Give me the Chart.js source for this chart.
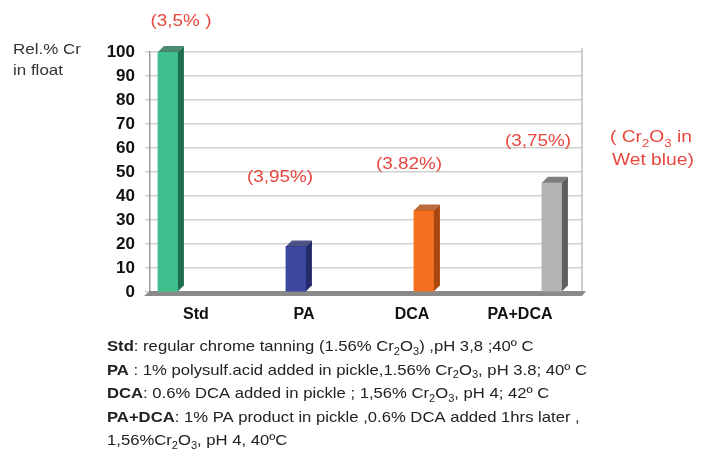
<!DOCTYPE html>
<html>
<head>
<meta charset="utf-8">
<script src="https://cdn.jsdelivr.net/npm/chart.js@4/dist/chart.umd.min.js"></script>
<style>
  html, body { margin: 0; padding: 0; background: #fff; }
  #wrap { width: 710px; height: 454px; position: relative; }
</style>
</head>
<body>
<div id="wrap"><canvas id="crChart"></canvas></div>
<script>
// data
const categories = ['Std', 'PA', 'DCA', 'PA+DCA'];
const relCr = [100, 19, 34, 45.5];
const cr2o3Labels = ['(3,5% )', '(3,95%)', '(3.82%)', '(3,75%)'];
const yTicks = [0, 10, 20, 30, 40, 50, 60, 70, 80, 90, 100];

const frontColors = ['#3fbf8e', '#3c47a0', '#f2701f', '#b4b4b4'];
const sideColors = ['#1d6e4e', '#252a6a', '#a9470f', '#5e5e5e'];
const red = '#e8463e';

// caption lines: [text, bold, subscript]
const caption = [
  [['Std', 1], [': regular chrome tanning (1.56% Cr'], ['2', 0, 1], ['O'], ['3', 0, 1], [') ,pH 3,8 ;40º C']],
  [['PA', 1], [' : 1% polysulf.acid added in pickle,1.56% Cr'], ['2', 0, 1], ['O'], ['3', 0, 1], [', pH 3.8; 40º C']],
  [['DCA', 1], [': 0.6% DCA added in pickle ; 1,56% Cr'], ['2', 0, 1], ['O'], ['3', 0, 1], [', pH 4; 42º C']],
  [['PA+DCA', 1], [': 1% PA product in pickle ,0.6% DCA added 1hrs later ,']],
  [['1,56%Cr'], ['2', 0, 1], ['O'], ['3', 0, 1], [', pH 4, 40ºC']]
];

const depth = 6;

// draws text stretched horizontally (the source image is a bit wide)
function wideText(c, t, x, y, sx, align) {
  const w = c.measureText(t).width * sx;
  let left = x;
  if (align === 'center') left = x - w / 2;
  c.save();
  c.translate(left, y);
  c.scale(sx, 1);
  c.textAlign = 'left';
  c.fillText(t, 0, 0);
  c.restore();
  return w;
}

const extras = {
  id: 'extras',
  beforeDatasetsDraw(chart) {
    const c = chart.ctx, a = chart.chartArea;
    c.save();
    c.strokeStyle = '#bdbdbd';
    c.lineWidth = 1.5;
    c.beginPath();
    c.moveTo(a.right, a.top - 4); c.lineTo(a.right, a.bottom);
    c.stroke();
    // floor
    c.fillStyle = '#8a8a8a';
    c.beginPath();
    c.moveTo(a.left - 6, a.bottom + 4);
    c.lineTo(a.right, a.bottom + 4);
    c.lineTo(a.right + 4, a.bottom - 1);
    c.lineTo(a.left, a.bottom - 1);
    c.closePath();
    c.fill();
    c.restore();
  },
  afterDatasetsDraw(chart) {
    const c = chart.ctx;
    const meta = chart.getDatasetMeta(0);
    c.save();
    meta.data.forEach((bar, i) => {
      const p = bar.getProps(['x', 'y', 'base', 'width'], true);
      const l = p.x - p.width / 2, r = p.x + p.width / 2;
      c.fillStyle = sideColors[i];
      c.beginPath();
      c.moveTo(r, p.y); c.lineTo(r + depth, p.y - depth);
      c.lineTo(r + depth, p.base - depth); c.lineTo(r, p.base);
      c.closePath(); c.fill();
      c.globalAlpha = 0.8;
      c.beginPath();
      c.moveTo(l, p.y); c.lineTo(l + depth, p.y - depth);
      c.lineTo(r + depth, p.y - depth); c.lineTo(r, p.y);
      c.closePath(); c.fill();
      c.globalAlpha = 1;
    });
    c.restore();
  },
  afterDraw(chart) {
    const c = chart.ctx;
    c.save();
    c.textBaseline = 'middle';
    // axis title
    c.fillStyle = '#333';
    c.font = '15px Arial';
    wideText(c, 'Rel.% Cr', 13, 50, 1.13);
    wideText(c, 'in float', 13, 71, 1.13);
    // red Cr2O3 labels
    c.fillStyle = red;
    c.font = '16px Arial';
    const pos = [[181, 22], [280, 178], [409, 165], [538, 142]];
    cr2o3Labels.forEach((t, i) => wideText(c, t, pos[i][0], pos[i][1], 1.18, 'center'));
    // note "( Cr2O3 in / Wet blue)"
    let x = 610;
    [['( Cr'], ['2', 1], ['O'], ['3', 1], [' in']].forEach(s => {
      c.font = s[1] ? '11px Arial' : '16px Arial';
      x += wideText(c, s[0], x, s[1] ? 144 : 138, 1.2);
    });
    c.font = '16px Arial';
    wideText(c, 'Wet blue)', 612, 161, 1.2);
    // caption
    c.fillStyle = '#222';
    caption.forEach((line, li) => {
      let cx = 107;
      const cy = 347 + li * 23.5;
      line.forEach(s => {
        const bold = s[1], sub = s[2];
        c.font = (bold ? 'bold ' : '') + (sub ? '10px' : '15px') + ' Arial';
        cx += wideText(c, s[0], cx, sub ? cy + 5 : cy, 1.11);
      });
    });
    c.restore();
  }
};

new Chart(document.getElementById('crChart'), {
  type: 'bar',
  data: {
    labels: categories,
    datasets: [{
      data: relCr.map((v, i) => ({ x: i, y: v })),
      backgroundColor: frontColors,
      borderWidth: 0,
      barThickness: 20,
      xAxisID: 'x',
    }]
  },
  options: {
    responsive: true,
    maintainAspectRatio: false,
    animation: false,
    events: [],
    layout: { padding: { left: 90, top: 52, right: 128, bottom: 120 } },
    plugins: { legend: { display: false }, tooltip: { enabled: false } },
    scales: {
      x: {
        type: 'linear',
        display: false,
        offset: false,
        min: -0.14,
        max: 3.235,
      },
      xLabels: {
        type: 'category',
        position: 'bottom',
        labels: categories,
        offset: true,
        clip: false,
        grid: { display: false },
        border: { display: false },
        ticks: {
          color: '#111',
          padding: 5,
          labelOffset: -8,
          font: { family: 'Arial', size: 16, weight: 'bold' },
        },
        afterFit(s) { s.height = 42; },
      },
      y: {
        min: 0,
        max: 100,
        afterBuildTicks(s) { s.ticks = yTicks.map(v => ({ value: v })); },
        grid: { color: '#cfcfcf', lineWidth: 1.5, tickLength: 5 },
        border: { color: '#9a9a9a', width: 1.5 },
        ticks: {
          color: '#111',
          padding: 10,
          font: { family: 'Arial', size: 17, weight: 'bold' },
        },
        afterFit(s) { s.width = 60; },
      }
    }
  },
  plugins: [extras]
});
</script>
</body>
</html>
